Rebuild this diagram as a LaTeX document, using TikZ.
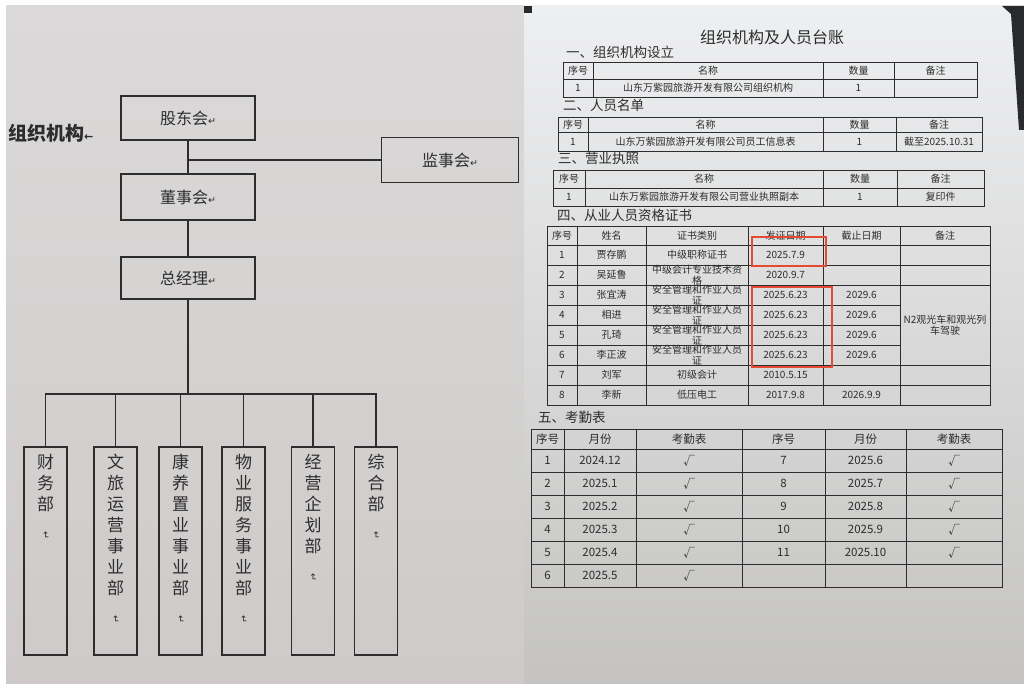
\documentclass[tikz,border=0pt]{standalone}
\usepackage{fontspec}
\usepackage{graphicx}
\setmainfont{Noto Sans CJK SC}
\newfontfamily\symfont{DejaVu Sans}
\usetikzlibrary{positioning,calc}
\definecolor{inkgray}{RGB}{45,45,45}
\definecolor{markred}{RGB}{228,74,52}
\definecolor{leftpapertop}{RGB}{219,217,217}
\definecolor{leftpaperbot}{RGB}{206,202,202}
\definecolor{rightpapertop}{RGB}{238,239,241}
\definecolor{rightpaperbot}{RGB}{196,195,193}
\definecolor{backdrop}{RGB}{40,42,46}
\newcommand{\retmark}{{\symfont\fontsize{9.5}{9.5}\selectfont ↵}}
\newcommand{\vretmark}{\rotatebox{-90}{\retmark}}
\newcommand{\vlabel}[1]{\parbox[c][194pt][t]{28pt}{\centering #1\\\vretmark}}
\tikzset{
  org-box/.style={draw=inkgray, line width=1.1pt, minimum width=134, minimum height=44,
    inner sep=0pt, text=inkgray, font=\fontsize{16}{18}\selectfont},
  dept-box/.style={draw=inkgray, line width=1.1pt, minimum width=43, minimum height=208,
    inner sep=0pt, text=inkgray, font=\fontsize{17}{21}\selectfont},
  org-line/.style={draw=inkgray, line width=1.1pt},
  grid-line/.style={draw=inkgray, line width=0.8pt},
  cell-text/.style={font=\fontsize{10}{11}\selectfont, inner sep=0pt, text=inkgray, align=center},
  cell-big/.style={font=\fontsize{11.5}{13}\selectfont, inner sep=0pt, text=inkgray, align=center},
  sec-title/.style={font=\fontsize{13.5}{15}\selectfont, anchor=west, inner sep=0pt, text=inkgray},
  mark-box/.style={draw=markred, line width=1.3pt}
}

\begin{document}
\begin{tikzpicture}[x=1pt,y=-1pt]
\useasboundingbox (0,0) rectangle (1024,684);
\fill[white] (0,0) rectangle (1024,684);
% the two photographed pages
\shade[top color=leftpapertop, bottom color=leftpaperbot] (6,6) rectangle (524,684);
\shade[top color=rightpapertop, bottom color=rightpaperbot] (524,6) rectangle (1024,684);
\fill[backdrop] (1002,6) -- (1024,6) -- (1024,130) -- (1019,130) -- (1011,14) -- cycle;
\fill[backdrop] (524,6) rectangle (532,13);

% left page: org chart
\node[font=\fontsize{19}{21}\selectfont\bfseries, anchor=west, inner sep=0pt, text=inkgray]
  (orgtitle) at (8,133) {组织机构{\symfont\fontsize{11}{11}\selectfont ←}};
\node[org-box] (gdh) at (188,118) {股东会\retmark};
\node[org-box, minimum width=137, minimum height=45] (jsh) at (450,160) {监事会\retmark};
\node[org-box, minimum height=46] (dsh) at (188,197) {董事会\retmark};
\node[org-box, minimum height=42] (zjl) at (188,278) {总经理\retmark};
\draw[org-line] (gdh.south) -- (dsh.north);
\draw[org-line] (jsh.west) -- (jsh.west -| gdh.south);
\draw[org-line] (dsh.south) -- (zjl.north);

\node[dept-box] (cwb) at (45.5,551) {\vlabel{财\\务\\部}};
\node[dept-box] (wlb) at (115.5,551) {\vlabel{文\\旅\\运\\营\\事\\业\\部}};
\node[dept-box] (kyb) at (180.5,551) {\vlabel{康\\养\\置\\业\\事\\业\\部}};
\node[dept-box] (wyb) at (243.5,551) {\vlabel{物\\业\\服\\务\\事\\业\\部}};
\node[dept-box] (jyb) at (313,551) {\vlabel{经\\营\\企\\划\\部}};
\node[dept-box] (zhb) at (376,551) {\vlabel{综\\合\\部}};
\coordinate (bus) at (188,394);
\draw[org-line] (zjl.south) -- (bus);
\draw[org-line] (cwb.north) -- (cwb.north |- bus) -- (zhb.north |- bus) -- (zhb.north);
\foreach \d in {wlb,kyb,wyb,jyb}
  \draw[org-line] (\d.north) -- (\d.north |- bus);

% right page: register tables
\node[font=\fontsize{16}{18}\selectfont, text=inkgray] (doctitle) at (772,37) {组织机构及人员台账};
\node[sec-title] (sec1) at (566,52) {一、组织机构设立};
\node[sec-title] (sec2) at (563,105) {二、人员名单};
\node[sec-title] (sec3) at (558,158) {三、营业执照};
\node[sec-title] (sec4) at (557,215) {四、从业人员资格证书};
\node[sec-title] (sec5) at (538,417) {五、考勤表};

% tables one to three
\foreach \tb/\xa/\xb/\xc/\xd/\xe/\ya/\yb/\yc/\full/\rmk in {
  1/563/593/823/894/977/62/79/97/{山东万紫园旅游开发有限公司组织机构}/{},
  2/558/588/823/896/982/117/132/151/{山东万紫园旅游开发有限公司员工信息表}/{截至2025.10.31},
  3/553/585/823/897/984/170/188/206/{山东万紫园旅游开发有限公司营业执照副本}/{复印件}}{
  \draw[grid-line] (\xa,\ya) rectangle (\xe,\yc);
  \draw[grid-line] (\xa,\yb) -- (\xe,\yb);
  \foreach \x in {\xb,\xc,\xd} \draw[grid-line] (\x,\ya) -- (\x,\yc);
  \node[cell-text] (t\tb-h1) at ({(\xa+\xb)/2},{(\ya+\yb)/2}) {序号};
  \node[cell-text] (t\tb-h2) at ({(\xb+\xc)/2},{(\ya+\yb)/2}) {名称};
  \node[cell-text] (t\tb-h3) at ({(\xc+\xd)/2},{(\ya+\yb)/2}) {数量};
  \node[cell-text] (t\tb-h4) at ({(\xd+\xe)/2},{(\ya+\yb)/2}) {备注};
  \node[cell-text] (t\tb-no) at ({(\xa+\xb)/2},{(\yb+\yc)/2}) {1};
  \node[cell-text] (t\tb-nm) at ({(\xb+\xc)/2},{(\yb+\yc)/2}) {\full};
  \node[cell-text] (t\tb-qt) at ({(\xc+\xd)/2},{(\yb+\yc)/2}) {1};
  \node[cell-text] (t\tb-rm) at ({(\xd+\xe)/2},{(\yb+\yc)/2}) {\rmk};
}

% table four: certificates
\draw[grid-line] (547,226) rectangle (990,405);
\foreach \y in {245,265,...,385} \draw[grid-line] (547,\y) -- (900,\y);
\foreach \y in {245,265,285,365,385} \draw[grid-line] (900,\y) -- (990,\y);
\foreach \x in {577,646,748,823,900} \draw[grid-line] (\x,226) -- (\x,405);
\node[cell-text] (t4-h1) at (562,235.5) {序号};
\node[cell-text] (t4-h2) at (611.5,235.5) {姓名};
\node[cell-text] (t4-h3) at (697,235.5) {证书类别};
\node[cell-text] (t4-h4) at (785.5,235.5) {发证日期};
\node[cell-text] (t4-h5) at (861.5,235.5) {截止日期};
\node[cell-text] (t4-h6) at (945,235.5) {备注};
\foreach \nm/\cert/\iss/\expd [count=\i] in {
  贾存鹏/中级职称证书/2025.7.9/{},
  吴延鲁/{中级会计专业技术资\\格}/2020.9.7/{},
  张宜涛/{安全管理和作业人员\\证}/2025.6.23/2029.6,
  相进/{安全管理和作业人员\\证}/2025.6.23/2029.6,
  孔琦/{安全管理和作业人员\\证}/2025.6.23/2029.6,
  李正波/{安全管理和作业人员\\证}/2025.6.23/2029.6,
  刘军/初级会计/2010.5.15/{},
  李新/低压电工/2017.9.8/2026.9.9}{
  \node[cell-text] (t4-no\i) at (562,{235+20*\i}) {\i};
  \node[cell-text] (t4-nm\i) at (611.5,{235+20*\i}) {\nm};
  \node[cell-text, font=\fontsize{10}{10.5}\selectfont] (t4-ct\i) at (697,{235+20*\i}) {\cert};
  \node[cell-text] (t4-is\i) at (785.5,{235+20*\i}) {\iss};
  \node[cell-text] (t4-ex\i) at (861.5,{235+20*\i}) {\expd};
}
\node[cell-text] (t4-rm) at (945,325) {N2观光车和观光列\\车驾驶};
\draw[mark-box] (752,237) rectangle (826,266);
\draw[mark-box] (752,287) rectangle (832,367);

% table five: attendance
\draw[grid-line] (531,429) rectangle (1002,587);
\foreach \y in {449,472,495,518,541,564} \draw[grid-line] (531,\y) -- (1002,\y);
\foreach \x in {564,636,742,825,906} \draw[grid-line] (\x,429) -- (\x,587);
\foreach \hd/\hx [count=\k] in {序号/547.5,月份/600,考勤表/689,序号/783.5,月份/865.5,考勤表/954}
  \node[cell-big] (t5-h\k) at (\hx,439) {\hd};
\foreach \a/\ma/\b/\mb [count=\i] in {1/2024.12/7/2025.6, 2/2025.1/8/2025.7,
    3/2025.2/9/2025.8, 4/2025.3/10/2025.9, 5/2025.4/11/2025.10}{
  \node[cell-big] (t5-a\i) at (547.5,{437.5+23*\i}) {\a};
  \node[cell-big] (t5-ma\i) at (600,{437.5+23*\i}) {\ma};
  \node[cell-big] (t5-ca\i) at (689,{437.5+23*\i}) {√};
  \node[cell-big] (t5-b\i) at (783.5,{437.5+23*\i}) {\b};
  \node[cell-big] (t5-mb\i) at (865.5,{437.5+23*\i}) {\mb};
  \node[cell-big] (t5-cb\i) at (954,{437.5+23*\i}) {√};
}
\node[cell-big] (t5-a6) at (547.5,575.5) {6};
\node[cell-big] (t5-ma6) at (600,575.5) {2025.5};
\node[cell-big] (t5-ca6) at (689,575.5) {√};
\end{tikzpicture}
\end{document}
